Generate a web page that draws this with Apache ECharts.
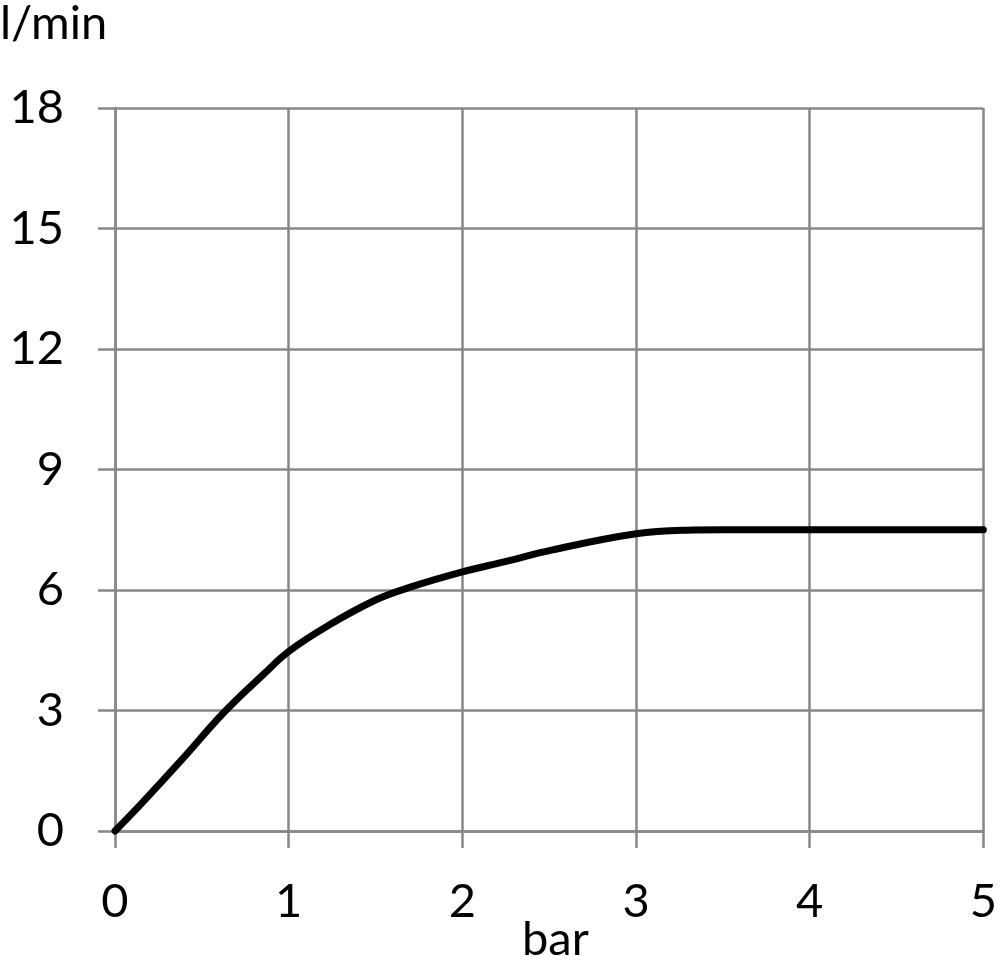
<!DOCTYPE html>
<html>
<head>
<meta charset="utf-8">
<script src="https://cdn.jsdelivr.net/npm/echarts@6/dist/echarts.min.js"></script>
<style>
html,body{margin:0;padding:0;background:#fff;}
#chart{width:1000px;height:962px;}
</style>
</head>
<body>
<div id="chart"></div>
<script>
const pressureBar = [0, 0.16, 0.39, 0.62, 0.85, 1.0, 1.23, 1.5, 1.7, 2.0, 2.24, 2.52, 3.0, 3.29, 3.5, 4.0, 4.5, 5.0];
const flowLpm =     [0, 0.72, 1.80, 2.92, 3.88, 4.47, 5.12, 5.75, 6.07, 6.45, 6.70, 7.00, 7.40, 7.49, 7.5, 7.5, 7.5, 7.5];
const yTicks = [0, 3, 6, 9, 12, 15, 18];
const xTicks = [0, 1, 2, 3, 4, 5];
const yUnit = 'l/min';
const xUnit = 'bar';

const FONT = 'Lato, "Open Sans", sans-serif';
const chart = echarts.init(document.getElementById('chart'), null, {renderer: 'canvas'});
const gridColor = '#888888';
chart.setOption({
  animation: false,
  backgroundColor: '#fff',
  grid: {left: 115, right: 10, top: 108, bottom: 131, containLabel: false},
  xAxis: {
    type: 'value', min: xTicks[0], max: xTicks[xTicks.length - 1], interval: 1,
    axisLine: {show: true, lineStyle: {color: gridColor, width: 2.5}},
    axisTick: {show: true, length: 17, lineStyle: {color: gridColor, width: 2.5}},
    splitLine: {show: true, lineStyle: {color: gridColor, width: 2.5}},
    axisLabel: {color: '#000', fontFamily: FONT, fontSize: 47, margin: 47}
  },
  yAxis: {
    type: 'value', min: yTicks[0], max: yTicks[yTicks.length - 1], interval: 3,
    axisLine: {show: true, lineStyle: {color: gridColor, width: 2.5}},
    axisTick: {show: true, length: 17, lineStyle: {color: gridColor, width: 2.5}},
    splitLine: {show: true, lineStyle: {color: gridColor, width: 2.5}},
    axisLabel: {color: '#000', fontFamily: FONT, fontSize: 47, margin: 51}
  },
  graphic: [
    {type: 'text', left: 0, top: 0, style: {text: yUnit, fill: '#000', font: '47px ' + FONT}},
    {type: 'text', left: 522, top: 916, style: {text: xUnit, fill: '#000', font: '47px ' + FONT}}
  ],
  series: [{
    type: 'line',
    data: pressureBar.map((x, i) => [x, flowLpm[i]]),
    smooth: 0.4,
    showSymbol: false,
    clip: false,
    lineStyle: {color: '#000', width: 7, cap: 'round'}
  }]
});
</script>
</body>
</html>
